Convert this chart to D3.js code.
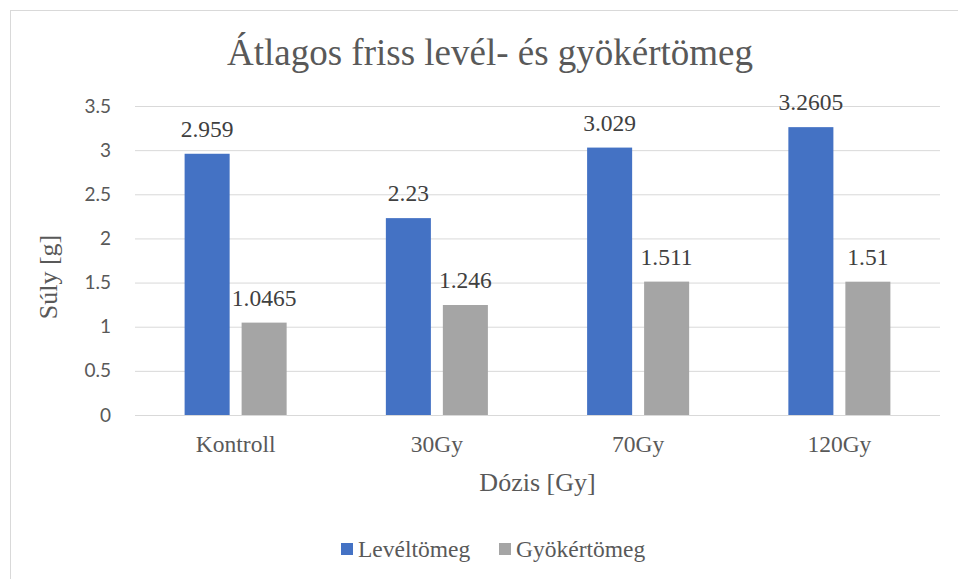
<!DOCTYPE html>
<html>
<head>
<meta charset="utf-8">
<script src="https://cdn.jsdelivr.net/npm/d3@7"></script>
<style>
  body { margin: 0; background: #fff; }
  svg { display: block; }
</style>
</head>
<body>
<div id="chart"></div>
<script>
// data
var categories = ["Kontroll", "30Gy", "70Gy", "120Gy"];
var seriesNames = ["Levéltömeg", "Gyökértömeg"];
var levelTomeg = [2.959, 2.23, 3.029, 3.2605];
var gyokerTomeg = [1.0465, 1.246, 1.511, 1.51];
var yTicks = [0, 0.5, 1, 1.5, 2, 2.5, 3, 3.5];
var colors = ["#4472C4", "#A5A5A5"];

var W = 958, H = 579;
var plot = {left: 135, right: 940, top: 106, bottom: 415};
var serif = "'Liberation Serif', 'Times New Roman', serif";
var sans = "Lato, 'Open Sans', sans-serif";

var svg = d3.select("#chart").append("svg")
    .attr("width", W)
    .attr("height", H);

// chart frame
svg.append("rect")
    .attr("x", 10.5).attr("y", 10.5)
    .attr("width", 970).attr("height", 600)
    .attr("fill", "#fff")
    .attr("stroke", "#D9D9D9");

var x0 = d3.scaleBand()
    .domain(categories)
    .range([plot.left, plot.right])
    .paddingInner(0.493)
    .paddingOuter(0.2465);

var x1 = d3.scaleBand()
    .domain(seriesNames)
    .range([0, x0.bandwidth()])
    .paddingInner(0.21);

var y = d3.scaleLinear()
    .domain([0, 3.5])
    .range([plot.bottom, plot.top]);

// gridlines + y tick labels
var yAxis = svg.append("g")
    .attr("transform", "translate(" + plot.left + ",0)")
    .call(d3.axisLeft(y).tickValues(yTicks).tickSize(-(plot.right - plot.left)).tickPadding(24)
        .tickFormat(function(d) { return String(d); }));
yAxis.select(".domain").remove();
yAxis.selectAll(".tick line").attr("stroke", "#D9D9D9").attr("stroke-width", 1);
yAxis.selectAll(".tick text")
    .attr("fill", "#595959")
    .style("font-family", sans)
    .style("font-size", "19px");

// x category labels
var xAxis = svg.append("g")
    .attr("transform", "translate(0," + plot.bottom + ")")
    .call(d3.axisBottom(x0).tickSize(0).tickPadding(0));
xAxis.select(".domain").remove();
xAxis.selectAll(".tick text")
    .attr("y", 37)
    .attr("dy", null)
    .attr("fill", "#595959")
    .style("font-family", serif)
    .style("font-size", "23.5px");

var rows = categories.map(function(c, i) {
  return {cat: c, values: [
    {name: seriesNames[0], value: levelTomeg[i], color: colors[0]},
    {name: seriesNames[1], value: gyokerTomeg[i], color: colors[1]}
  ]};
});

var groups = svg.selectAll(".grp")
    .data(rows)
    .enter().append("g")
    .attr("class", "grp")
    .attr("transform", function(d) { return "translate(" + x0(d.cat) + ",0)"; });

groups.selectAll("rect")
    .data(function(d) { return d.values; })
    .enter().append("rect")
    .attr("x", function(d) { return x1(d.name); })
    .attr("y", function(d) { return y(d.value); })
    .attr("width", x1.bandwidth())
    .attr("height", function(d) { return y(0) - y(d.value); })
    .attr("fill", function(d) { return d.color; });

groups.selectAll(".lbl")
    .data(function(d) { return d.values; })
    .enter().append("text")
    .attr("class", "lbl")
    .attr("x", function(d) { return x1(d.name) + x1.bandwidth() / 2; })
    .attr("y", function(d) { return y(d.value) - 17; })
    .attr("text-anchor", "middle")
    .attr("fill", "#404040")
    .style("font-family", serif)
    .style("font-size", "23.5px")
    .text(function(d) { return String(d.value); });

// title
svg.append("text")
    .attr("x", 490).attr("y", 65)
    .attr("text-anchor", "middle")
    .attr("fill", "#595959")
    .style("font-family", serif)
    .style("font-size", "37px")
    .text("Átlagos friss levél- és gyökértömeg");

// axis titles
svg.append("text")
    .attr("x", (plot.left + plot.right) / 2).attr("y", 491)
    .attr("text-anchor", "middle")
    .attr("fill", "#595959")
    .style("font-family", serif)
    .style("font-size", "26px")
    .text("Dózis [Gy]");

svg.append("text")
    .attr("transform", "translate(57,277) rotate(-90)")
    .attr("text-anchor", "middle")
    .attr("fill", "#595959")
    .style("font-family", serif)
    .style("font-size", "26px")
    .text("Súly [g]");

// legend
var legendX = [341, 499];
var legend = svg.selectAll(".leg")
    .data(seriesNames)
    .enter().append("g")
    .attr("class", "leg")
    .attr("transform", function(d, i) { return "translate(" + legendX[i] + ",543)"; });
legend.append("rect")
    .attr("width", 12).attr("height", 12)
    .attr("fill", function(d, i) { return colors[i]; });
legend.append("text")
    .attr("x", 17).attr("y", 14)
    .attr("fill", "#595959")
    .style("font-family", serif)
    .style("font-size", "23.5px")
    .text(function(d) { return d; });
</script>
</body>
</html>
